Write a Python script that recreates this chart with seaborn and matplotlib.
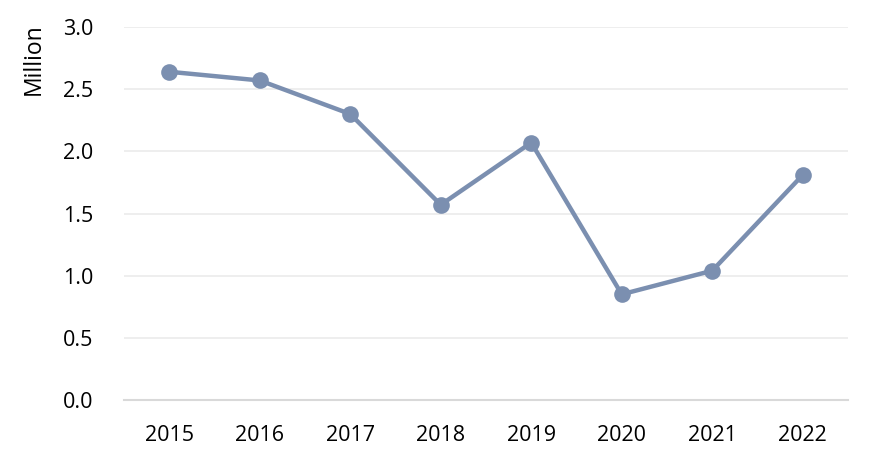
import matplotlib
matplotlib.use("Agg")
import matplotlib.pyplot as plt
import seaborn as sns
import pandas as pd

years = ["2015", "2016", "2017", "2018", "2019", "2020", "2021", "2022"]
values = [2.64, 2.57, 2.30, 1.57, 2.07, 0.85, 1.04, 1.81]
yticks = [0.0, 0.5, 1.0, 1.5, 2.0, 2.5, 3.0]

sns.set_theme(style="white")
plt.rcParams['font.family'] = ['Open Sans', 'DejaVu Sans']

df = pd.DataFrame({"year": years, "value": values})

fig = plt.figure(figsize=(8.71, 4.65), dpi=100)
ax = fig.add_axes([124/871, 65/465, (848-124)/871, (400-27)/465])

color = "#7B8FB0"
sns.lineplot(data=df, x="year", y="value", ax=ax, color=color, linewidth=3.2,
             marker="o", markersize=12, markeredgewidth=0, sort=False)

ax.set_xlim(-0.5, len(years) - 0.5)
ax.set_ylim(0, 3.0)
ax.set_yticks(yticks)
ax.set_yticklabels([f"{t:.1f}" for t in yticks])
ax.grid(axis="y", color="#EBEBEB", linewidth=1.2)
ax.set_axisbelow(True)
for s in ["top", "right", "left"]:
    ax.spines[s].set_visible(False)
ax.spines["bottom"].set_color("#D9D9D9")
ax.spines["bottom"].set_linewidth(1.5)
ax.tick_params(axis="both", length=0, labelsize=15.5, colors="#000000")
ax.tick_params(axis="x", pad=18)
ax.tick_params(axis="y", pad=22)
ax.set_xlabel("")
ax.set_ylabel("Million", fontsize=16.5, color="#000000")
ax.yaxis.set_label_coords(-0.108, 0.915)

fig.savefig("out.png", dpi=100)
